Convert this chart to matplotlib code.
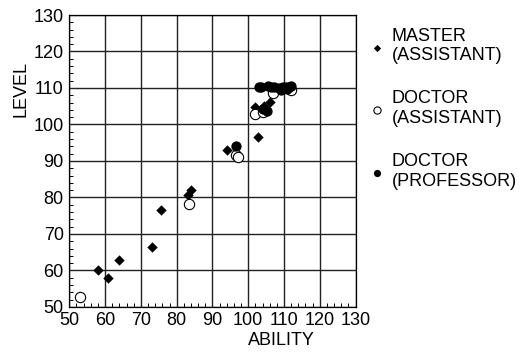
import matplotlib.pyplot as plt
from matplotlib.ticker import MultipleLocator

plt.rcParams['font.family'] = ['Liberation Sans', 'DejaVu Sans']

# ability / level per group
master_ability = [58.1, 60.7, 64.0, 73.1, 75.7, 83.2, 83.9, 94.2, 102.8, 101.8, 104.5, 106.0]
master_level = [60.2, 57.9, 62.9, 66.4, 76.5, 80.6, 82.0, 93.0, 96.7, 104.7, 105.1, 106.1]

doc_asst_ability = [53.1, 83.5, 96.7, 97.2, 101.8, 104.1, 106.8, 111.9]
doc_asst_level = [52.7, 78.3, 91.5, 91.0, 102.9, 103.4, 108.7, 109.5]

doc_prof_ability = [96.5, 104.1, 105.2, 103.1, 103.6, 105.4, 106.3, 107.3, 108.7,
                    109.6, 110.5, 111.4, 111.9, 109.2, 110.8]
doc_prof_level = [94.2, 104.3, 103.6, 110.4, 110.3, 110.5, 110.4, 110.3, 110.0,
                  110.2, 110.4, 110.3, 110.5, 109.5, 109.6]

fig = plt.figure(figsize=(5.26, 3.54), dpi=100)
ax = fig.add_axes([0.1318, 0.133, 0.5442, 0.8246])

ax.scatter(master_ability, master_level, marker='D', s=28, color='black',
           linewidths=0, label='MASTER\n(ASSISTANT)', zorder=3)
ax.scatter(doc_asst_ability, doc_asst_level, marker='o', s=55, facecolors='white',
           edgecolors='black', linewidths=0.8, label='DOCTOR\n(ASSISTANT)', zorder=3)
ax.scatter(doc_prof_ability, doc_prof_level, marker='o', s=55, color='black',
           linewidths=0, label='DOCTOR\n(PROFESSOR)', zorder=4)

ax.set_xlim(50, 130)
ax.set_ylim(50, 130)
ax.xaxis.set_major_locator(MultipleLocator(10))
ax.yaxis.set_major_locator(MultipleLocator(10))
ax.xaxis.set_minor_locator(MultipleLocator(2))
ax.yaxis.set_minor_locator(MultipleLocator(2))
ax.tick_params(which='major', length=0, labelsize=13, pad=4)
ax.tick_params(which='minor', direction='in', length=3, width=0.7)
ax.grid(True, which='major', color='#222222', linewidth=1.0)
ax.set_axisbelow(True)
for s in ax.spines.values():
    s.set_linewidth(0.9)

ax.set_xlabel('ABILITY', fontsize=13)
ax.xaxis.set_label_coords(0.74, -0.085)
ax.set_ylabel('LEVEL', fontsize=13)
ax.yaxis.set_label_coords(-0.14, 0.746)

ax.legend(loc='upper left', bbox_to_anchor=(1.0, 1.0), frameon=False,
          fontsize=13, labelspacing=1.45, handletextpad=0.3, handlelength=1.0,
          markerscale=0.7, borderaxespad=0.3)

fig.savefig('out.png', dpi=100)
